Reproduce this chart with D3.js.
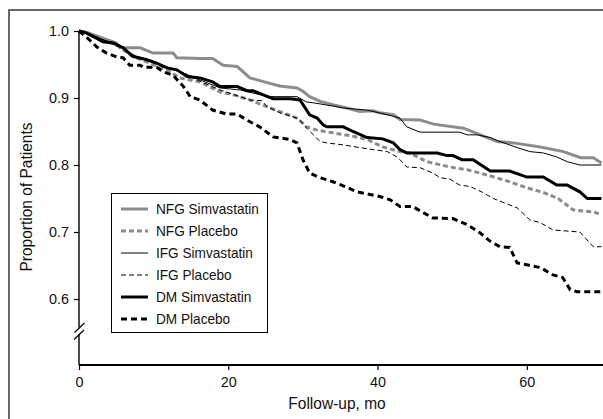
<!DOCTYPE html>
<html>
<head>
<meta charset="utf-8">
<script src="https://cdn.jsdelivr.net/npm/d3@7"></script>
<style>
  html, body { margin: 0; padding: 0; background: #fff; }
  svg { display: block; }
  text { font-family: "Liberation Sans", Arial, Helvetica, sans-serif; fill: #111; }
</style>
</head>
<body>
<svg id="chart" width="603" height="419"></svg>
<script>
// ---------- data (months, proportion) ----------
const seriesNames = ["NFG Simvastatin", "NFG Placebo", "IFG Simvastatin", "IFG Placebo", "DM Simvastatin", "DM Placebo"];
const xTicks = [0, 20, 40, 60];
const yTicks = [0.6, 0.7, 0.8, 0.9, 1.0];

const nfgSimvastatin = [[0,1.000],[1,0.998],[3,0.990],[5,0.982],[5.5,0.975],[8.2,0.975],[9.9,0.967],[12.6,0.967],[13.1,0.960],[16.2,0.959],[17.9,0.959],[19.3,0.949],[21.2,0.947],[22.9,0.930],[25.2,0.923],[26.9,0.918],[29.2,0.915],[30,0.910],[30.9,0.902],[32.3,0.895],[34,0.890],[35.9,0.885],[37.6,0.880],[39.4,0.881],[40.3,0.878],[42.1,0.875],[43,0.868],[45.7,0.867],[47.5,0.861],[51.5,0.855],[53.8,0.845],[56,0.835],[58.2,0.833],[61.8,0.827],[64.9,0.820],[67.2,0.811],[68.9,0.811],[70,0.803]];
const nfgPlacebo = [[0,1.000],[1,0.998],[3,0.989],[5,0.979],[7.2,0.962],[9.5,0.952],[11.8,0.942],[13.5,0.930],[16.2,0.924],[18.9,0.909],[20.6,0.905],[22.9,0.897],[25.2,0.887],[27.3,0.878],[29.2,0.870],[30.5,0.857],[31.9,0.852],[34,0.848],[36.3,0.844],[38.6,0.838],[40.7,0.827],[43,0.820],[44.3,0.818],[46.6,0.805],[49.7,0.797],[52,0.793],[54.7,0.785],[57.7,0.775],[60,0.766],[62.2,0.759],[64.2,0.750],[66.2,0.733],[68.9,0.730],[70,0.726]];
const ifgSimvastatin = [[0,1.000],[1,0.998],[2.5,0.990],[4.5,0.982],[6,0.975],[7.2,0.964],[9,0.958],[10.9,0.949],[12.5,0.944],[14.5,0.935],[16.2,0.927],[18.9,0.915],[21.6,0.912],[24.2,0.905],[25.6,0.902],[29.2,0.902],[30.5,0.894],[31.3,0.893],[34,0.888],[35.4,0.885],[38.6,0.882],[41.3,0.875],[43,0.870],[43.9,0.857],[45.7,0.849],[51,0.849],[52,0.845],[53.3,0.845],[55.1,0.841],[56.4,0.835],[58.7,0.826],[60.4,0.820],[62.2,0.818],[64,0.812],[65.4,0.805],[67.1,0.800],[70,0.800]];
const ifgPlacebo = [[0,1.000],[1,0.998],[3,0.988],[5,0.979],[7.2,0.965],[9.5,0.955],[12,0.945],[14.5,0.935],[16.2,0.925],[18.9,0.912],[21.6,0.902],[22.9,0.897],[24.5,0.896],[25.2,0.887],[26.9,0.878],[28.7,0.872],[29.6,0.867],[30.5,0.855],[32.3,0.835],[33.2,0.833],[35.4,0.830],[37.6,0.826],[39.4,0.823],[41.3,0.820],[42.6,0.812],[43,0.808],[43.9,0.797],[45.7,0.796],[47.4,0.788],[48.4,0.781],[49.7,0.779],[51,0.770],[52.4,0.768],[54.1,0.759],[55.5,0.750],[58.7,0.736],[60.4,0.718],[61.8,0.714],[63.5,0.703],[67.1,0.700],[68.9,0.678],[70,0.678]];
const dmSimvastatin = [[0,1.000],[0.8,0.998],[2.4,0.989],[3.2,0.984],[4.6,0.982],[5.9,0.975],[7.2,0.962],[9.1,0.957],[10.4,0.952],[11.8,0.945],[13.1,0.942],[14.5,0.932],[16.2,0.930],[17.9,0.924],[18.9,0.917],[21.2,0.917],[22.5,0.911],[23.3,0.911],[24.6,0.905],[26,0.899],[28.3,0.899],[29.6,0.897],[30.9,0.875],[31.9,0.870],[32.7,0.860],[33.2,0.857],[35.4,0.857],[36.7,0.850],[38.6,0.841],[40.7,0.839],[42.1,0.833],[43,0.823],[43.9,0.818],[48,0.818],[49.3,0.814],[50.1,0.814],[51.3,0.808],[52.8,0.808],[55.1,0.791],[57.7,0.791],[60,0.782],[62.2,0.782],[64,0.770],[65.4,0.770],[67.1,0.760],[68.1,0.750],[70,0.750]];
const dmPlacebo = [[0,1.000],[1,0.991],[2.4,0.976],[3.7,0.967],[5.1,0.961],[5.9,0.960],[6.8,0.949],[8.2,0.949],[8.6,0.946],[10.4,0.946],[11.3,0.939],[12.6,0.934],[14,0.917],[14.9,0.902],[16.2,0.897],[17.9,0.882],[19.8,0.876],[21.2,0.876],[22.5,0.867],[24.2,0.857],[26,0.842],[28.3,0.838],[29.2,0.833],[30,0.808],[30.9,0.788],[32.3,0.781],[34,0.775],[35.4,0.769],[37.2,0.760],[39,0.756],[40.3,0.753],[41.7,0.748],[43,0.738],[44.7,0.738],[46.1,0.729],[47.4,0.721],[50.1,0.720],[52,0.711],[53.7,0.699],[55.1,0.686],[56.4,0.678],[57.7,0.677],[58.7,0.654],[60,0.651],[61.8,0.647],[63.5,0.636],[64.8,0.632],[65.8,0.614],[66.7,0.611],[70,0.611]];

// ---------- styles ----------
const GRAY = "#8c8c8c";
const styles = {
  "NFG Simvastatin": { data: nfgSimvastatin, color: GRAY, width: 3, dash: null },
  "NFG Placebo":     { data: nfgPlacebo,     color: GRAY, width: 3, dash: "5,3" },
  "IFG Simvastatin": { data: ifgSimvastatin, color: "#000", width: 1, dash: null },
  "IFG Placebo":     { data: ifgPlacebo,     color: "#000", width: 1, dash: "5,3" },
  "DM Simvastatin":  { data: dmSimvastatin,  color: "#000", width: 3, dash: null },
  "DM Placebo":      { data: dmPlacebo,      color: "#000", width: 3, dash: "6,4" }
};
const drawOrder = ["NFG Simvastatin", "NFG Placebo", "DM Simvastatin", "DM Placebo", "IFG Simvastatin", "IFG Placebo"];

const svg = d3.select("#chart");
const x = d3.scaleLinear().domain([0, 70.2]).range([79, 603]);
const y = d3.scaleLinear().domain([0.6, 1.0]).range([299, 31]);
const axisY = 365;
const FONT = "'Liberation Sans', Arial, Helvetica, sans-serif";

// outer frame
svg.append("rect").attr("x", 9).attr("y", 10).attr("width", 610).attr("height", 430)
  .attr("fill", "none").attr("stroke", "#444").attr("stroke-width", 1.6);

// y axis
const gy = svg.append("g").attr("transform", "translate(79,0)")
  .call(d3.axisLeft(y).tickValues(yTicks).tickFormat(d3.format(".1f")).tickSize(5).tickPadding(5));
gy.select(".domain").remove();
gy.selectAll(".tick line").attr("stroke", "#000").attr("stroke-width", 1.2);
gy.selectAll(".tick text").attr("font-size", 15.3).attr("fill", "#111").style("font-family", FONT)
  .attr("x", -10.6).attr("transform", "scale(0.94,1)");

// y axis line with break
svg.append("line").attr("x1", 79).attr("x2", 79).attr("y1", 31).attr("y2", 327.5)
  .attr("stroke", "#000").attr("stroke-width", 1.4);
svg.append("line").attr("x1", 79).attr("x2", 79).attr("y1", 334.5).attr("y2", axisY)
  .attr("stroke", "#000").attr("stroke-width", 1.4);
svg.append("line").attr("x1", 74.5).attr("y1", 332.5).attr("x2", 84.5).attr("y2", 323)
  .attr("stroke", "#000").attr("stroke-width", 1.2);
svg.append("line").attr("x1", 74).attr("y1", 339.5).attr("x2", 84).attr("y2", 330)
  .attr("stroke", "#000").attr("stroke-width", 1.2);

// x axis
const gx = svg.append("g").attr("transform", `translate(0,${axisY})`)
  .call(d3.axisBottom(x).tickValues(xTicks).tickFormat(d3.format("d")).tickSize(5).tickPadding(6));
gx.select(".domain").remove();
gx.selectAll(".tick line").attr("stroke", "#000").attr("stroke-width", 1.2);
gx.selectAll(".tick text").attr("font-size", 15.3).attr("fill", "#111").style("font-family", FONT)
  .attr("transform", "scale(0.94,1)");
svg.append("line").attr("x1", 79).attr("x2", 603).attr("y1", axisY).attr("y2", axisY)
  .attr("stroke", "#000").attr("stroke-width", 1.8);

// axis titles
svg.append("text").attr("transform", "translate(337,409) scale(0.94,1)").attr("text-anchor", "middle")
  .attr("font-size", 16.5).text("Follow-up, mo");
svg.append("text").attr("transform", "translate(32,197) rotate(-90) scale(0.94,1)").attr("text-anchor", "middle")
  .attr("font-size", 16.5).text("Proportion of Patients");

// lines
const line = d3.line().x(d => x(d[0])).y(d => y(d[1])).curve(d3.curveLinear);
drawOrder.forEach(name => {
  const s = styles[name];
  svg.append("path").datum(s.data).attr("d", line)
    .attr("fill", "none").attr("stroke", s.color).attr("stroke-width", s.width)
    .attr("stroke-dasharray", s.dash).attr("stroke-linejoin", "miter");
});

// legend
const lg = svg.append("g");
lg.append("rect").attr("x", 111.5).attr("y", 193.5).attr("width", 156).attr("height", 139)
  .attr("fill", "#fff").attr("stroke", "#000").attr("stroke-width", 1);
seriesNames.forEach((name, i) => {
  const s = styles[name];
  const cy = 209 + i * 22;
  lg.append("line").attr("x1", 121).attr("x2", 148).attr("y1", cy).attr("y2", cy)
    .attr("stroke", s.color).attr("stroke-width", s.width).attr("stroke-dasharray", s.dash);
  lg.append("text").attr("transform", `translate(156,${cy}) scale(0.96,1)`).attr("dy", "0.36em")
    .attr("font-size", 14.2).text(name);
});
</script>
</body>
</html>
